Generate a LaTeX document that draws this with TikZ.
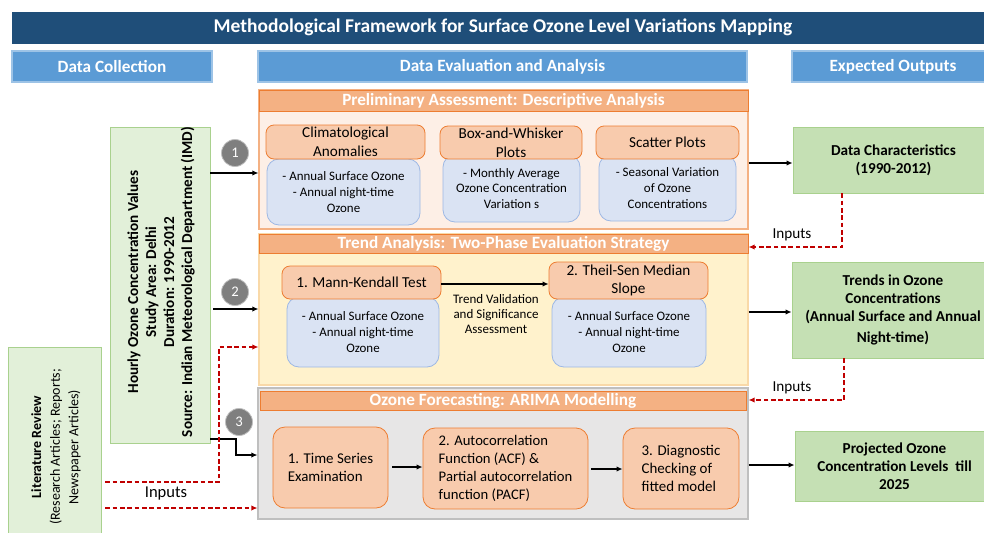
\documentclass[tikz,border=0pt]{standalone}
\usepackage{fontspec}
\setmainfont{Carlito}
\usetikzlibrary{arrows.meta}
\definecolor{titleblue}{HTML}{1F4E79}
\definecolor{hdrblue}{HTML}{5B9BD5}
\definecolor{hdrborder}{HTML}{9DC3E6}
\definecolor{orstrip}{HTML}{F4B183}
\definecolor{orborder}{HTML}{ED7D31}
\definecolor{sec1fill}{HTML}{FDEFE6}
\definecolor{sec2fill}{HTML}{FFF2CC}
\definecolor{sec2border}{HTML}{F9D9A8}
\definecolor{sec3fill}{HTML}{E7E6E6}
\definecolor{sec3border}{HTML}{BFBFBF}
\definecolor{orbox}{HTML}{F8CBAD}
\definecolor{bluebox}{HTML}{DAE3F3}
\definecolor{blueborder}{HTML}{9DB8E4}
\definecolor{greenout}{HTML}{C5E0B4}
\definecolor{greenlight}{HTML}{E2F0D9}
\definecolor{greenborder}{HTML}{A9D18E}
\definecolor{circgray}{HTML}{7F7F7F}
\definecolor{dred}{HTML}{C00000}
\newcommand\fs[2]{\fontsize{#1}{#2}\selectfont}
\newcommand\bx[7]{%
  \pgfmathsetmacro\bxcx{(#2+#4)/2}%
  \pgfmathsetmacro\bxcy{(#3+#5)/2}%
  \pgfmathsetmacro\bxw{(#4-#2)*0.75}%
  \pgfmathsetmacro\bxh{(#5-#3)*0.75}%
  \node[#6, minimum width=\bxw pt, minimum height=\bxh pt, inner sep=0pt, anchor=center] (#1) at (\bxcx,\bxcy) {#7};}
\begin{document}
\begin{tikzpicture}[x=0.75pt,y=-0.75pt,
  titlebar/.style={fill=titleblue, draw=titleblue, text=white, font=\bfseries\fs{14.6}{16}},
  hdr/.style={fill=hdrblue, draw=hdrborder, line width=0.8pt, text=white, font=\bfseries\fs{12.9}{14}},
  strip/.style={fill=orstrip, draw=orborder, line width=0.6pt, text=white, font=\bfseries\fs{12.9}{14}},
  sec1body/.style={fill=sec1fill, draw=orstrip, line width=0.8pt},
  sec2body/.style={fill=sec2fill, draw=sec2border, line width=0.8pt},
  sec3body/.style={fill=sec3fill, draw=sec3border, line width=0.8pt},
  obox/.style={fill=orbox, draw=orborder, line width=0.6pt, rounded corners=6pt, align=center, font=\fs{11.4}{14}},
  obox3/.style={fill=orbox, draw=orborder, line width=0.6pt, rounded corners=9pt, align=left},
  bbox/.style={fill=bluebox, draw=blueborder, line width=0.6pt, rounded corners=9pt, align=center, font=\fs{9.7}{11.8}},
  gout/.style={fill=greenout, draw=greenborder, line width=0.6pt, align=center, font=\bfseries\fs{11.4}{13.5}},
  gleft/.style={fill=greenlight, draw=greenborder, line width=0.6pt},
  circ/.style={circle, fill=circgray, draw=sec3border, line width=0.6pt, minimum size=20.25pt, inner sep=0pt, text=white, font=\fs{11}{12}},
  arr/.style={-{Latex[length=4.5pt,width=4pt]}, line width=1.1pt},
  darr/.style={dred, dash pattern=on 3.5pt off 2pt, line width=1.1pt, -{Latex[length=4.5pt,width=4pt]}},
  inp/.style={font=\fs{11.4}{13}},
  tvtext/.style={align=center, font=\fs{9.75}{11.6}}]
\useasboundingbox (0,0) rectangle (984,532);
\clip (0,0) rectangle (984,532);
\fill[white] (0,0) rectangle (984,532);

% title and headers
\bx{title}{12}{12}{994}{43}{titlebar}{Methodological Framework for Surface Ozone Level Variations Mapping}
\bx{hdc}{12}{51}{212}{82}{hdr}{Data Collection}
\bx{hdea}{258}{51}{747}{82}{hdr}{Data Evaluation and Analysis}
\bx{heo}{792}{51}{994}{82}{hdr}{Expected Outputs}

% section 1
\bx{sec1}{259}{90}{748}{229}{sec1body}{}
\bx{strip1}{259}{90}{748}{111}{strip}{Preliminary Assessment: Descriptive Analysis}
\bx{b11}{267}{159}{420}{225}{bbox}{- Annual Surface Ozone\\- Annual night-time\\Ozone}
\bx{o11}{266}{125}{425}{159}{obox}{Climatological\\Anomalies}
\bx{b12}{443}{155}{580}{222}{bbox}{- Monthly Average\\Ozone Concentration\\Variation s}
\bx{o12}{440}{126}{582}{159}{obox}{Box-and-Whisker\\Plots}
\bx{b13}{599}{155}{736}{221}{bbox}{- Seasonal Variation\\of Ozone\\Concentrations}
\bx{o13}{596}{126}{739}{159}{obox}{Scatter Plots}

% section 2
\bx{sec2}{259}{234}{748}{385}{sec2body}{}
\bx{strip2}{259}{234}{748}{253}{strip}{Trend Analysis: Two-Phase Evaluation Strategy}
\bx{b21}{287}{297}{439}{367}{bbox}{- Annual Surface Ozone\\- Annual night-time\\Ozone}
\bx{o21}{282}{266}{441}{299}{obox}{1. Mann-Kendall Test}
\bx{b22}{552}{297}{706}{367}{bbox}{- Annual Surface Ozone\\- Annual night-time\\Ozone}
\bx{o22}{549}{262}{708}{299}{obox}{2. Theil-Sen Median\\Slope}
\node[tvtext] (tv) at (496,314) {Trend Validation\\and Significance\\Assessment};
\draw[arr] (o21.east |- 0,284) -- (o22.west |- 0,284);

% section 3
\bx{sec3}{258}{388}{748}{519}{sec3body}{}
\bx{strip3}{260}{391}{746}{410}{strip}{Ozone Forecasting: ARIMA Modelling}
\bx{o31}{273}{427}{388}{508}{obox3, font=\fs{11.2}{13.5}}{1. Time Series\\Examination}
\bx{o32}{423}{428}{588}{509}{obox3, font=\fs{11}{13.5}}{2. Autocorrelation\\Function (ACF) \&\\Partial autocorrelation\\function (PACF)}
\bx{o33}{623}{428}{739}{509}{obox3, font=\fs{11.2}{13.5}}{3. Diagnostic\\Checking of\\fitted model}
\draw[arr] (o31.east |- 0,467) ++(4,0) coordinate (a31) -- (o32.west |- 0,467);
\draw[arr] (o32.east |- 0,469) ++(3,0) coordinate (a32) -- (o33.west |- 0,469);

% left column
\bx{hourly}{110}{127}{210}{443}{gleft}{}
\node[rotate=90, align=center, font=\bfseries\fs{11.4}{13.5}] (hourlytxt) at (161,282)
  {Hourly Ozone Concentration Values\\Study Area: Delhi\\Duration: 1990-2012\\Source: Indian Meteorological Department (IMD)};
\bx{lit}{8}{347}{101}{545}{gleft}{}
\node[rotate=90, align=center, font=\fs{10.5}{14}] (littxt) at (56,447)
  {\textbf{Literature Review}\\(Research Articles; Reports;\\Newspaper Articles)};

\node[circ] (c1) at (235,153) {1};
\node[circ] (c2) at (235,292) {2};
\node[circ] (c3) at (239,422) {3};

\draw[arr] (hourly.east |- 0,173) -- (sec1.west |- 0,173);
\draw[arr] (hourly.east |- 0,309) ++(3,0) coordinate (h2) -- (sec2.west |- 0,309);
\draw[arr] (hourly.east |- 0,439) -- (236,439) |- (sec3.west |- 0,455);

\draw[darr] (lit.east |- 0,482) ++(4,0) coordinate (l1) -| (219,347) -- (sec2.west |- 0,347);
\draw[darr] (lit.east |- 0,508) ++(4,0) coordinate (l2) -- (sec3.west |- 0,508);
\node[inp, font=\fs{12.4}{14}] (in3) at (166,494) {Inputs};

% outputs
\bx{dc}{793}{127}{994}{193}{gout}{Data Characteristics\\(1990-2012)}
\bx{tr}{792}{262}{994}{358}{gout}{Trends in Ozone\\Concentrations\\(Annual Surface and Annual\\[2pt]Night-time)}
\bx{pr}{795}{431}{994}{501}{gout}{Projected Ozone\\Concentration Levels\ \ till\\2025}

\draw[arr] (sec1.east |- 0,163) -- (dc.west |- 0,163);
\draw[arr] (sec2.east |- 0,312) -- (tr.west |- 0,312);
\draw[arr] (sec3.east |- 0,465) -- (pr.west |- 0,465);

\draw[darr] (842,0 |- dc.south) |- (sec2.east |- 0,247);
\node[inp] (in1) at (792,235) {Inputs};
\draw[darr] (844,0 |- tr.south) |- (sec3.east |- 0,400);
\node[inp] (in2) at (792,388) {Inputs};
\end{tikzpicture}
\end{document}
